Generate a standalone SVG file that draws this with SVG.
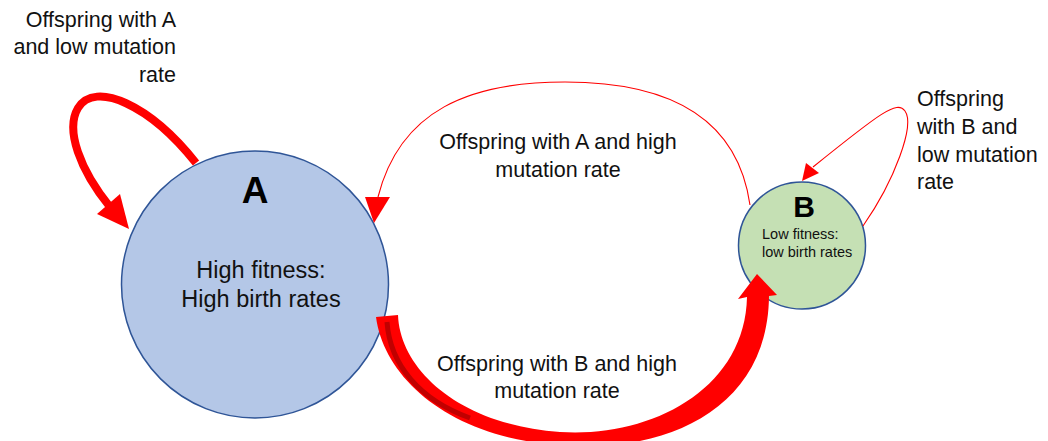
<svg xmlns="http://www.w3.org/2000/svg" width="1048" height="441" viewBox="0 0 1048 441">
<style>
.lbl{font-family:"Liberation Sans",Arial,sans-serif;font-size:21.5px;fill:#111}
.big{font-family:"Liberation Sans",Arial,sans-serif;font-weight:bold;fill:#000}
.thin{fill:none;stroke:#FF0000;stroke-width:1.1}
.red{fill:#FF0000}
</style>
<rect width="1048" height="441" fill="#fff"/>
<g id="nodeA">
<circle cx="255" cy="284.5" r="133.5" fill="#B4C7E7" stroke="#2F5597" stroke-width="1.5"/>
<text class="big" x="255" y="203" font-size="37" text-anchor="middle">A</text>
<text class="lbl" x="261" y="278" text-anchor="middle" style="font-size:23.5px">High fitness:</text>
<text class="lbl" x="261" y="307" text-anchor="middle" style="font-size:23.5px">High birth rates</text>
</g>
<g id="nodeB">
<circle cx="802" cy="245.5" r="63.5" fill="#C5E0B4" stroke="#2F5597" stroke-width="1.5"/>
<text class="big" x="804" y="217" font-size="30" text-anchor="middle">B</text>
<text class="lbl" x="762" y="239" style="font-size:14.5px">Low fitness:</text>
<text class="lbl" x="762" y="257" style="font-size:14.5px">low birth rates</text>
</g>
<g id="connectors">
<path d="M196,163 C150,105 95,80 78,108 C65,130 80,170 110,207" fill="none" stroke="#FF0000" stroke-width="8"/>
<polygon class="red" points="129,229 97,214 120,194"/>
<path class="thin" d="M750,205 C735,100 640,82 565,82 C470,82 400,110 378,197"/>
<polygon class="red" points="374,223 365,197 390,197"/>
<path class="thin" d="M863,226 C895,180 915,125 905,111 C897,100 880,113 813,167"/>
<polygon class="red" points="802,181 806,163 819,173"/>
<path class="red" d="M376,317 C384,378 450,438 560,445 C662,454 768,412 769,296 L777,295 L757,274 L738,299 L747,297 C745,390 650,438 560,432 C460,425 400,370 398,315 Z"/>
<path d="M387,322 C390,365 420,400 470,418" fill="none" stroke="#C00000" stroke-width="5"/>
</g>
<g id="labels">
<text class="lbl" x="176" y="27" text-anchor="end">Offspring with A</text>
<text class="lbl" x="176" y="54" text-anchor="end">and low mutation</text>
<text class="lbl" x="176" y="82" text-anchor="end">rate</text>
<text class="lbl" x="558" y="149" text-anchor="middle">Offspring with A and high</text>
<text class="lbl" x="558" y="177" text-anchor="middle">mutation rate</text>
<text class="lbl" x="557" y="371" text-anchor="middle">Offspring with B and high</text>
<text class="lbl" x="557" y="398" text-anchor="middle">mutation rate</text>
<text class="lbl" x="917" y="106">Offspring</text>
<text class="lbl" x="917" y="134">with B and</text>
<text class="lbl" x="917" y="162">low mutation</text>
<text class="lbl" x="917" y="189">rate</text>
</g>
</svg>
